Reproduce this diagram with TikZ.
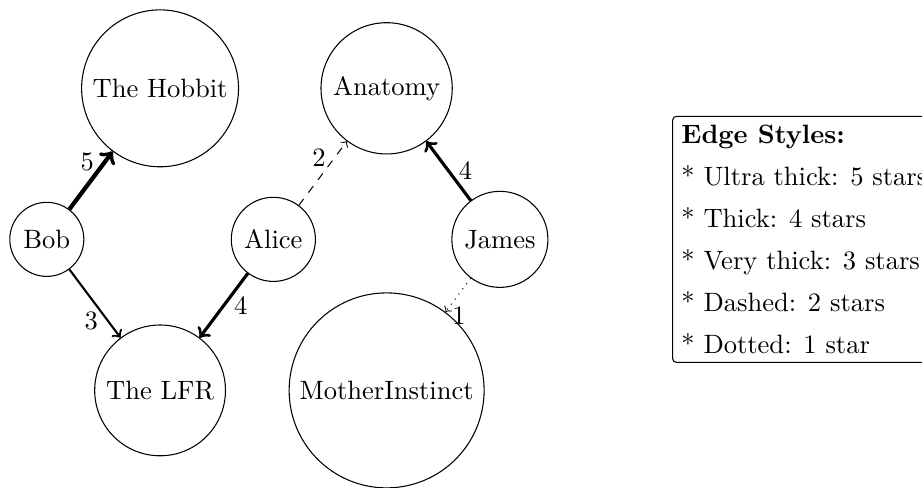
\documentclass[tikz,border=0pt]{standalone}
\usetikzlibrary{positioning}

\begin{document}
\begin{tikzpicture}[
    person/.style={circle, draw},
    book/.style={circle, draw},
    legendbox/.style={draw, rounded corners=1.5pt, align=left, anchor=west}
]

    % --- Adjustable parameters ---
    \def\dx{1.5}  % horizontal step
    \def\dy{2}    % vertical step

    % --- Frame ---
    \useasboundingbox (-0.62,-3.28) rectangle (11.59,3.17);

    % --- Readers ---
    \node[person] (Bob)   at (0,0)      {Bob};
    \node[person] (Alice) at (2*\dx,0)  {Alice};
    \node[person] (James) at (4*\dx,0)  {James};

    % --- Books ---
    \node[book] (Hobbit)  at (\dx,\dy)    {The Hobbit};
    \node[book] (LFR)     at (\dx,-\dy)   {The LFR};
    \node[book] (Anatomy) at (3*\dx,\dy)  {Anatomy};
    \node[book] (Mother)  at (3*\dx,-\dy) {MotherInstinct};

    % --- Ratings ---
    \draw[->, ultra thick] (Bob) -- node[left, pos=0.82] {5} (Hobbit);
    \draw[->, thick] (Bob) -- node[left, near end] {3} (LFR);
    \draw[->, very thick] (Alice) -- node[right, midway] {4} (LFR);
    \draw[->, dashed] (Alice) -- node[left, near end] {2} (Anatomy);
    \draw[->, very thick] (James) -- node[right, midway] {4} (Anatomy);
    \draw[->, dotted] (James) -- node[anchor=west, pos=1.1] {1} (Mother);

    % --- Legend ---
    \node[legendbox] (legend) at (8.28,0) {\textbf{Edge Styles:}\\[3.8pt]
        * Ultra thick: 5 stars\\[3.8pt]
        * Thick: 4 stars\\[3.8pt]
        * Very thick: 3 stars\\[3.8pt]
        * Dashed: 2 stars\\[3.8pt]
        * Dotted: 1 star};

\end{tikzpicture}
\end{document}
